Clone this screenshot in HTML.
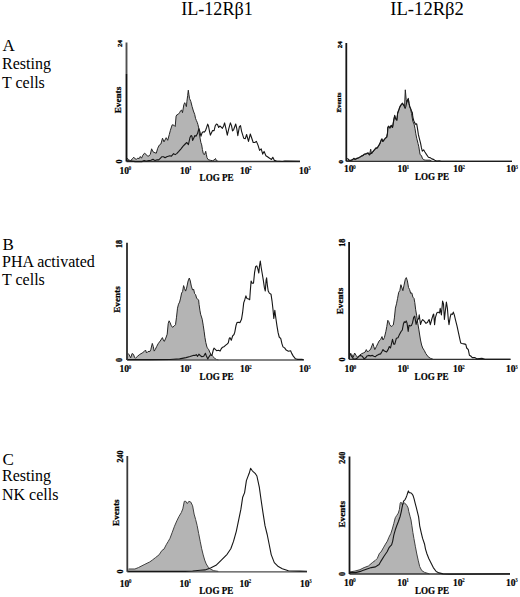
<!DOCTYPE html>
<html><head><meta charset="utf-8"><style>
html,body{margin:0;padding:0;background:#fff;width:520px;height:597px;overflow:hidden}
svg{display:block}
text{font-family:"Liberation Serif",serif}
.h{font-size:18px}
.l{font-size:16px}
.L{font-size:17px}
.t{font-size:9.5px;font-weight:bold;stroke:#000;stroke-width:0.2px}
.s{font-size:5.5px;font-weight:bold}
.e{font-size:9px;font-weight:bold}
.g{font-size:9.5px;font-weight:bold;stroke:#000;stroke-width:0.2px}
.r{font-weight:bold;stroke:#000;stroke-width:0.3px}
.ev{stroke-width:0.25px}
</style></head><body>
<svg width="520" height="597" viewBox="0 0 520 597">
<rect width="520" height="597" fill="#fff"/>

<text class="h" x="181.2" y="15.2" textLength="71.6" lengthAdjust="spacingAndGlyphs">IL-12R&#946;1</text>
<text class="h" x="390.3" y="15.2" textLength="73.6" lengthAdjust="spacingAndGlyphs">IL-12R&#946;2</text>
<text class="L" x="2.5" y="51">A</text>
<text class="l" x="2" y="68.7">Resting</text>
<text class="l" x="2" y="87.6">T cells</text>
<text class="L" x="2.5" y="249.9">B</text>
<text class="l" x="2" y="266.7">PHA activated</text>
<text class="l" x="2" y="284.9">T cells</text>
<text class="L" x="2.5" y="465.2">C</text>
<text class="l" x="2" y="480.9">Resting</text>
<text class="l" x="2" y="500.2">NK cells</text>
<polygon points="126.5,161.5 127.4,158.2 128.4,159.9 129.4,160.2 130.7,160.9 132.4,158.6 133.8,157.2 135.1,158.9 136.5,159.2 137.8,158.2 139.2,158.6 140.3,156.5 141.5,158.2 142.9,155.2 144.5,153.2 145.9,154.2 147.6,156.2 148.9,155.9 150.3,154.5 151.6,148.8 153.0,151.8 155.0,152.8 156.3,153.2 157.7,148.3 159.3,145.1 160.9,144.0 162.5,138.2 164.0,141.9 166.2,137.7 167.7,140.3 169.3,134.5 170.4,130.3 172.2,124.8 173.9,125.2 175.2,126.5 176.1,116.1 176.9,114.8 178.2,114.4 179.5,112.7 180.8,110.5 181.7,110.1 182.5,112.7 183.8,104.9 184.7,102.7 185.6,104.5 186.4,106.6 186.9,101.4 187.7,95.4 188.3,90.2 188.9,94.5 189.5,98.4 190.8,101.4 192.1,106.6 193.4,111.0 194.7,114.4 195.5,118.3 196.4,120.5 197.2,122.3 197.9,124.5 198.7,127.9 199.4,134.0 200.2,138.9 200.9,142.6 201.7,144.9 202.4,149.4 203.2,153.2 204.0,154.7 204.7,154.3 205.7,151.3 206.4,154.7 207.0,157.7 208.1,159.6 210.4,160.3 212.6,160.7 214.1,160.0 215.5,158.5 216.4,160.7 218.7,161.5 218.7,161.5" fill="#b4b4b4" stroke="none"/>
<polyline points="127.4,158.2 128.4,159.9 129.4,160.2 130.7,160.9 132.4,158.6 133.8,157.2 135.1,158.9 136.5,159.2 137.8,158.2 139.2,158.6 140.3,156.5 141.5,158.2 142.9,155.2 144.5,153.2 145.9,154.2 147.6,156.2 148.9,155.9 150.3,154.5 151.6,148.8 153.0,151.8 155.0,152.8 156.3,153.2 157.7,148.3 159.3,145.1 160.9,144.0 162.5,138.2 164.0,141.9 166.2,137.7 167.7,140.3 169.3,134.5 170.4,130.3 172.2,124.8 173.9,125.2 175.2,126.5 176.1,116.1 176.9,114.8 178.2,114.4 179.5,112.7 180.8,110.5 181.7,110.1 182.5,112.7 183.8,104.9 184.7,102.7 185.6,104.5 186.4,106.6 186.9,101.4 187.7,95.4 188.3,90.2 188.9,94.5 189.5,98.4 190.8,101.4 192.1,106.6 193.4,111.0 194.7,114.4 195.5,118.3 196.4,120.5 197.2,122.3 197.9,124.5 198.7,127.9 199.4,134.0 200.2,138.9 200.9,142.6 201.7,144.9 202.4,149.4 203.2,153.2 204.0,154.7 204.7,154.3 205.7,151.3 206.4,154.7 207.0,157.7 208.1,159.6 210.4,160.3 212.6,160.7 214.1,160.0 215.5,158.5 216.4,160.7 218.7,161.5" fill="none" stroke="#262626" stroke-width="1" stroke-linejoin="round"/>
<line x1="126.5" y1="161.5" x2="300.0" y2="161.5" stroke="#333" stroke-width="1.3"/>
<polyline points="127.4,160.6 128.7,160.9 135.5,161.6 142.2,161.6 144.2,160.6 146.2,161.2 148.9,160.6 150.9,160.2 153.0,159.2 155.0,160.6 156.6,159.9 158.7,159.9 160.3,158.3 161.9,156.7 163.5,156.7 165.1,157.8 166.7,156.7 168.3,156.2 169.9,155.7 171.4,156.2 173.6,153.6 175.1,154.6 176.7,153.6 178.8,151.4 181.0,148.8 183.1,146.2 185.2,144.0 186.8,142.5 188.4,144.6 190.0,137.5 191.1,135.5 191.9,136.2 192.6,140.4 193.8,138.1 194.9,135.5 196.0,136.2 197.5,133.6 198.3,130.6 199.0,128.7 199.8,131.3 200.9,136.2 202.1,132.8 203.2,131.7 204.3,132.1 205.5,130.6 206.6,127.5 207.7,124.1 208.5,126.0 209.5,131.3 210.4,135.1 211.5,132.8 212.6,130.6 214.1,130.6 215.3,125.7 216.4,124.1 217.5,124.5 218.7,127.5 219.8,126.0 220.9,126.8 222.4,128.3 223.6,126.0 224.6,122.9 226.2,129.8 227.3,135.1 228.8,128.7 230.4,122.9 231.5,125.6 232.5,130.9 233.6,129.8 235.7,124.0 236.8,128.7 237.8,135.6 239.4,126.6 240.5,125.6 241.6,131.3 243.7,138.2 245.3,138.7 246.6,134.5 248.5,141.4 250.3,134.0 251.6,137.7 253.2,142.5 254.8,142.5 256.4,141.4 258.0,145.1 259.6,150.4 261.2,148.8 262.7,154.1 264.1,151.4 265.9,155.7 267.5,156.7 269.6,158.3 271.5,159.4 272.8,157.3 274.4,160.4 276.5,161.0 282.3,161.5 285.0,161.0 300.0,161.3" fill="none" stroke="#161616" stroke-width="1.1" stroke-linejoin="round"/>
<line x1="126.5" y1="42.5" x2="126.5" y2="74.0" stroke="#505050" stroke-width="1.9"/>
<line x1="126.5" y1="74.0" x2="126.5" y2="161.5" stroke="#111" stroke-width="1.9"/>
<polygon points="346.3,161.3 347.0,161.0 352.5,160.0 353.8,158.8 355.1,159.6 356.8,158.8 359.0,157.9 361.2,156.6 362.9,155.8 364.6,154.5 366.4,154.0 368.1,153.2 369.4,155.2 370.7,149.2 371.5,154.0 372.4,152.7 374.1,150.6 375.9,148.4 377.2,148.4 378.5,146.3 379.8,144.1 381.1,140.6 381.9,139.3 382.8,141.9 384.1,140.2 385.4,138.5 386.7,137.6 387.5,133.3 387.8,127.9 388.6,126.6 389.9,128.3 391.2,125.7 392.5,127.9 393.8,120.1 394.7,115.8 395.5,118.8 396.8,120.5 397.7,113.2 399.0,109.7 399.9,107.1 401.2,105.0 402.5,103.7 403.8,105.8 404.6,106.0 405.3,89.8 406.2,99.5 406.8,102.4 407.7,100.2 408.3,98.9 409.0,103.7 409.8,107.1 410.7,109.3 411.5,113.5 412.8,121.3 414.1,124.3 415.0,128.7 415.8,133.8 416.7,138.2 418.0,143.4 418.8,146.8 419.5,151.1 420.1,154.6 421.4,155.5 422.3,158.1 423.6,159.8 425.8,160.2 430.1,160.2 431.8,161.3 431.8,161.3" fill="#b4b4b4" stroke="none"/>
<polyline points="347.0,161.0 352.5,160.0 353.8,158.8 355.1,159.6 356.8,158.8 359.0,157.9 361.2,156.6 362.9,155.8 364.6,154.5 366.4,154.0 368.1,153.2 369.4,155.2 370.7,149.2 371.5,154.0 372.4,152.7 374.1,150.6 375.9,148.4 377.2,148.4 378.5,146.3 379.8,144.1 381.1,140.6 381.9,139.3 382.8,141.9 384.1,140.2 385.4,138.5 386.7,137.6 387.5,133.3 387.8,127.9 388.6,126.6 389.9,128.3 391.2,125.7 392.5,127.9 393.8,120.1 394.7,115.8 395.5,118.8 396.8,120.5 397.7,113.2 399.0,109.7 399.9,107.1 401.2,105.0 402.5,103.7 403.8,105.8 404.6,106.0 405.3,89.8 406.2,99.5 406.8,102.4 407.7,100.2 408.3,98.9 409.0,103.7 409.8,107.1 410.7,109.3 411.5,113.5 412.8,121.3 414.1,124.3 415.0,128.7 415.8,133.8 416.7,138.2 418.0,143.4 418.8,146.8 419.5,151.1 420.1,154.6 421.4,155.5 422.3,158.1 423.6,159.8 425.8,160.2 430.1,160.2 431.8,161.3" fill="none" stroke="#262626" stroke-width="1" stroke-linejoin="round"/>
<line x1="346.3" y1="161.3" x2="512.0" y2="161.3" stroke="#333" stroke-width="1.3"/>
<polyline points="347.3,158.3 349.1,160.0 350.8,160.5 352.5,159.6 353.8,158.3 355.1,159.2 356.8,158.3 359.0,157.4 361.2,156.1 362.9,155.3 364.6,154.0 366.4,153.5 368.1,152.7 369.4,154.8 370.7,153.5 372.4,152.2 374.1,150.1 375.9,147.9 377.2,147.9 378.5,145.8 379.8,143.6 381.1,140.1 381.9,138.8 382.8,141.4 384.1,139.7 385.4,138.0 386.7,137.1 387.5,132.8 387.8,127.4 388.6,126.1 389.9,127.8 391.2,125.2 392.5,127.4 393.8,119.6 394.7,115.3 395.5,118.3 396.8,120.0 397.7,112.7 399.0,109.2 399.9,106.6 401.2,104.5 402.5,103.2 403.8,105.3 405.1,108.4 405.9,106.2 406.8,101.9 407.7,99.7 408.3,98.4 409.0,103.2 409.8,106.6 410.7,108.8 411.5,111.0 412.4,112.7 412.8,117.0 413.7,120.5 414.6,122.6 415.4,124.3 416.7,123.9 417.5,128.7 418.4,134.7 419.7,139.9 420.6,143.4 421.4,147.7 422.3,151.1 423.6,149.8 424.9,152.0 426.6,154.6 428.4,157.2 430.1,157.6 431.8,158.9 433.5,159.4 434.8,160.2 436.6,161.1 439.2,160.7 441.3,161.3 512.0,161.2" fill="none" stroke="#161616" stroke-width="1.1" stroke-linejoin="round"/>
<line x1="346.3" y1="43.0" x2="346.3" y2="161.3" stroke="#161616" stroke-width="1.8"/>
<polygon points="127.0,360.0 128.3,353.5 129.2,354.9 130.7,357.8 132.1,353.5 133.5,354.4 134.5,357.3 135.5,358.3 137.4,356.3 139.8,354.4 142.2,353.0 144.6,351.1 145.6,350.1 146.5,353.0 148.0,351.5 149.9,351.5 150.8,349.6 152.3,343.4 153.3,346.7 154.2,351.1 155.2,349.6 156.6,346.7 158.1,343.8 159.5,341.9 160.9,340.0 162.4,337.6 163.3,340.0 164.3,341.4 165.8,338.1 167.2,334.2 168.2,323.7 169.1,320.8 170.1,322.7 171.0,325.2 172.5,327.3 174.0,326.2 175.5,324.7 176.5,317.2 177.5,308.2 178.5,304.2 179.6,302.1 180.6,298.1 181.6,293.1 182.6,291.6 183.6,285.6 184.6,288.6 185.6,291.1 186.6,288.1 188.1,281.0 189.3,278.0 190.3,281.0 191.3,286.1 192.6,290.1 193.6,289.1 194.6,293.6 195.6,294.6 196.6,298.1 197.6,299.1 198.6,300.1 199.1,304.7 199.9,310.2 200.6,314.2 202.2,319.2 203.2,325.2 204.1,331.2 204.9,337.3 205.8,342.5 207.1,347.7 208.0,348.5 208.8,349.8 209.7,352.0 211.0,354.6 212.7,356.3 214.5,358.1 216.2,359.4 218.4,359.8 218.4,360.0" fill="#b4b4b4" stroke="none"/>
<polyline points="128.3,353.5 129.2,354.9 130.7,357.8 132.1,353.5 133.5,354.4 134.5,357.3 135.5,358.3 137.4,356.3 139.8,354.4 142.2,353.0 144.6,351.1 145.6,350.1 146.5,353.0 148.0,351.5 149.9,351.5 150.8,349.6 152.3,343.4 153.3,346.7 154.2,351.1 155.2,349.6 156.6,346.7 158.1,343.8 159.5,341.9 160.9,340.0 162.4,337.6 163.3,340.0 164.3,341.4 165.8,338.1 167.2,334.2 168.2,323.7 169.1,320.8 170.1,322.7 171.0,325.2 172.5,327.3 174.0,326.2 175.5,324.7 176.5,317.2 177.5,308.2 178.5,304.2 179.6,302.1 180.6,298.1 181.6,293.1 182.6,291.6 183.6,285.6 184.6,288.6 185.6,291.1 186.6,288.1 188.1,281.0 189.3,278.0 190.3,281.0 191.3,286.1 192.6,290.1 193.6,289.1 194.6,293.6 195.6,294.6 196.6,298.1 197.6,299.1 198.6,300.1 199.1,304.7 199.9,310.2 200.6,314.2 202.2,319.2 203.2,325.2 204.1,331.2 204.9,337.3 205.8,342.5 207.1,347.7 208.0,348.5 208.8,349.8 209.7,352.0 211.0,354.6 212.7,356.3 214.5,358.1 216.2,359.4 218.4,359.8" fill="none" stroke="#262626" stroke-width="1" stroke-linejoin="round"/>
<line x1="127.0" y1="360.0" x2="303.8" y2="360.0" stroke="#5a5a5a" stroke-width="1.3"/>
<polyline points="127.5,359.6 150.0,359.6 170.0,359.5 179.6,358.9 186.0,357.6 190.0,356.5 193.9,355.2 195.0,355.5 196.3,354.6 197.6,356.3 198.9,354.2 200.2,355.5 201.9,356.8 203.7,356.3 205.4,353.3 206.2,355.5 207.8,358.9 209.3,356.3 210.6,354.6 211.9,355.5 213.2,350.3 214.0,348.1 215.3,349.4 216.6,350.7 218.4,350.3 220.1,351.1 221.4,348.5 222.7,347.2 224.4,346.4 225.7,345.1 227.0,344.2 228.3,342.9 229.2,338.6 230.0,337.7 231.3,340.3 232.6,336.0 233.9,334.7 234.8,332.1 236.1,325.2 237.0,322.6 238.3,322.2 240.0,322.6 241.5,319.3 242.6,312.7 243.7,302.9 244.8,299.7 245.9,295.9 247.0,298.6 248.6,299.1 249.7,299.7 250.3,291.0 251.1,281.1 252.2,283.3 253.5,283.3 254.6,272.4 255.7,266.4 256.8,265.9 257.9,269.2 258.8,273.0 259.5,265.9 260.3,261.0 261.1,267.0 262.2,273.5 263.3,280.1 264.4,287.7 265.3,291.0 266.1,280.1 266.6,277.9 267.4,285.5 268.2,291.0 269.3,293.1 271.0,294.2 272.0,300.8 273.0,309.5 273.8,318.5 274.8,310.4 275.9,318.5 277.0,326.1 278.1,332.7 279.2,337.0 280.8,338.7 281.9,343.6 283.0,346.9 284.6,347.9 286.2,350.1 288.4,351.2 290.6,350.7 291.7,353.4 293.3,356.1 295.5,358.8 297.7,359.4 302.0,359.4 303.8,359.7" fill="none" stroke="#161616" stroke-width="1.1" stroke-linejoin="round"/>
<line x1="127.0" y1="242.8" x2="127.0" y2="360.0" stroke="#2a2a2a" stroke-width="1.8"/>
<polygon points="349.1,359.3 350.3,353.0 351.7,354.4 353.2,357.3 354.6,353.0 356.1,355.4 357.5,357.3 359.4,355.4 361.3,353.9 363.3,353.0 365.2,352.0 366.3,349.6 367.6,352.0 369.0,350.6 370.5,349.6 371.9,345.8 372.9,343.4 373.8,346.7 374.8,349.6 376.3,346.7 377.7,343.8 379.1,341.0 380.6,339.5 382.0,336.6 383.0,340.0 384.4,337.6 385.9,331.3 386.8,326.5 387.8,320.3 388.8,321.7 389.7,324.6 391.2,326.5 392.6,325.6 393.3,325.0 394.4,317.9 395.4,308.1 396.5,303.8 397.6,298.3 398.7,292.3 399.8,290.7 400.9,284.7 402.0,288.0 402.9,290.7 403.9,285.8 405.3,279.3 406.3,277.6 407.4,280.9 408.5,287.4 409.6,289.6 410.7,293.4 411.8,292.9 412.9,297.2 414.0,298.3 414.8,302.7 415.6,309.2 416.7,315.8 417.8,323.4 418.9,329.9 419.7,335.0 420.5,340.0 421.6,345.0 422.7,348.0 424.3,350.5 425.8,353.6 428.2,356.8 430.6,358.4 433.0,359.3 433.0,359.3" fill="#b4b4b4" stroke="none"/>
<polyline points="350.3,353.0 351.7,354.4 353.2,357.3 354.6,353.0 356.1,355.4 357.5,357.3 359.4,355.4 361.3,353.9 363.3,353.0 365.2,352.0 366.3,349.6 367.6,352.0 369.0,350.6 370.5,349.6 371.9,345.8 372.9,343.4 373.8,346.7 374.8,349.6 376.3,346.7 377.7,343.8 379.1,341.0 380.6,339.5 382.0,336.6 383.0,340.0 384.4,337.6 385.9,331.3 386.8,326.5 387.8,320.3 388.8,321.7 389.7,324.6 391.2,326.5 392.6,325.6 393.3,325.0 394.4,317.9 395.4,308.1 396.5,303.8 397.6,298.3 398.7,292.3 399.8,290.7 400.9,284.7 402.0,288.0 402.9,290.7 403.9,285.8 405.3,279.3 406.3,277.6 407.4,280.9 408.5,287.4 409.6,289.6 410.7,293.4 411.8,292.9 412.9,297.2 414.0,298.3 414.8,302.7 415.6,309.2 416.7,315.8 417.8,323.4 418.9,329.9 419.7,335.0 420.5,340.0 421.6,345.0 422.7,348.0 424.3,350.5 425.8,353.6 428.2,356.8 430.6,358.4 433.0,359.3" fill="none" stroke="#262626" stroke-width="1" stroke-linejoin="round"/>
<line x1="349.1" y1="359.3" x2="510.5" y2="359.3" stroke="#333" stroke-width="1.3"/>
<polyline points="349.8,353.5 351.3,355.9 353.2,358.8 355.1,359.2 357.0,358.3 358.9,356.3 360.4,355.4 362.3,356.3 364.2,358.8 365.7,357.8 367.1,355.9 368.6,355.4 370.5,355.9 372.4,355.4 373.8,356.3 375.3,356.8 376.7,355.4 378.7,354.4 380.6,353.9 382.0,351.5 383.0,349.6 384.4,351.1 386.6,352.0 388.1,349.6 389.3,346.5 390.5,348.0 392.5,339.4 393.7,344.1 394.8,344.1 396.4,338.2 398.0,337.8 399.2,335.1 401.1,331.5 402.3,330.0 403.5,323.7 404.3,321.7 405.3,322.5 406.2,320.9 407.0,322.9 408.2,331.5 409.0,325.2 410.2,326.0 411.4,325.6 412.5,322.9 413.7,317.4 414.7,316.2 415.3,319.7 416.1,324.4 417.3,320.5 418.8,318.1 419.2,314.7 420.5,324.5 421.6,321.2 422.7,319.6 424.3,321.2 426.0,323.4 427.6,322.3 428.0,321.3 429.1,319.5 430.3,324.6 431.7,319.5 433.1,314.9 433.7,314.0 434.6,324.6 435.4,317.6 436.8,313.0 438.1,312.1 439.5,313.0 440.2,308.4 441.4,314.9 442.6,301.1 443.5,303.8 444.4,319.5 445.3,311.2 446.4,302.0 447.4,308.4 448.3,319.5 449.0,324.6 450.1,317.6 451.0,314.0 452.4,314.4 453.3,312.1 454.3,314.9 455.6,320.4 457.0,325.9 458.4,332.4 459.8,338.8 460.7,343.0 462.1,343.5 463.9,343.9 465.8,344.4 466.7,348.0 468.3,349.7 469.4,355.2 470.7,356.0 472.3,357.6 474.7,357.6 477.1,358.9 481.9,358.4 485.0,359.2 510.5,359.2" fill="none" stroke="#161616" stroke-width="1.1" stroke-linejoin="round"/>
<line x1="349.1" y1="242.0" x2="349.1" y2="359.3" stroke="#161616" stroke-width="1.8"/>
<polygon points="127.3,571.8 128.5,569.0 134.9,569.0 138.4,567.6 144.1,564.7 149.8,561.9 152.7,559.8 155.5,557.6 159.1,554.8 161.9,550.5 164.0,549.1 166.2,544.8 168.3,541.3 170.0,538.3 172.3,532.2 174.5,526.2 176.8,520.9 179.0,516.4 181.3,512.6 182.8,508.9 184.3,501.3 185.8,501.3 187.3,503.6 188.9,501.3 190.8,502.1 192.6,505.8 194.1,514.1 195.6,519.4 197.1,525.4 198.7,533.7 200.2,541.3 201.7,548.8 203.2,554.9 204.7,560.1 206.2,563.9 208.5,567.7 210.7,569.2 213.7,570.7 218.3,571.4 218.3,571.8" fill="#b4b4b4" stroke="none"/>
<polyline points="128.5,569.0 134.9,569.0 138.4,567.6 144.1,564.7 149.8,561.9 152.7,559.8 155.5,557.6 159.1,554.8 161.9,550.5 164.0,549.1 166.2,544.8 168.3,541.3 170.0,538.3 172.3,532.2 174.5,526.2 176.8,520.9 179.0,516.4 181.3,512.6 182.8,508.9 184.3,501.3 185.8,501.3 187.3,503.6 188.9,501.3 190.8,502.1 192.6,505.8 194.1,514.1 195.6,519.4 197.1,525.4 198.7,533.7 200.2,541.3 201.7,548.8 203.2,554.9 204.7,560.1 206.2,563.9 208.5,567.7 210.7,569.2 213.7,570.7 218.3,571.4" fill="none" stroke="#404040" stroke-width="1" stroke-linejoin="round"/>
<line x1="127.3" y1="571.8" x2="307.0" y2="571.8" stroke="#4a4a4a" stroke-width="1.3"/>
<polyline points="127.5,571.4 185.1,571.4 192.6,571.0 200.2,570.2 205.0,569.9 210.5,568.1 216.0,565.3 221.6,559.8 227.1,554.3 230.8,548.7 233.5,541.4 236.3,531.3 239.0,518.4 240.9,509.2 242.7,497.2 244.6,492.6 246.4,480.6 247.7,477.1 249.2,473.3 250.6,468.3 252.1,470.5 252.9,471.4 255.1,473.3 256.9,476.0 259.3,487.1 261.1,500.0 263.0,512.9 265.0,525.7 267.2,534.5 269.2,544.5 271.2,554.6 274.3,562.6 278.3,566.6 282.3,568.7 288.4,570.7 300.0,571.1 307.0,571.3" fill="none" stroke="#161616" stroke-width="1.1" stroke-linejoin="round"/>
<line x1="127.3" y1="456.0" x2="127.3" y2="571.8" stroke="#3a3a3a" stroke-width="1.8"/>
<polygon points="349.5,574.0 349.9,571.9 354.9,571.1 359.9,569.7 364.1,567.6 368.4,566.0 372.7,562.3 375.0,560.7 377.3,558.4 379.5,553.2 381.0,552.0 383.3,547.9 385.5,544.1 387.4,541.1 388.9,537.3 390.8,533.6 392.3,529.0 393.8,523.5 395.3,517.7 396.8,515.4 398.3,513.1 399.4,509.4 400.2,503.3 400.9,502.2 401.7,503.0 402.4,505.0 403.6,503.3 404.7,503.0 405.8,504.1 406.9,505.6 408.1,507.9 408.8,511.6 410.0,516.2 411.0,520.0 411.9,525.8 412.9,532.6 413.9,538.4 415.3,546.2 416.8,554.0 418.3,560.8 419.7,566.6 421.7,570.5 424.6,572.4 429.4,573.9 429.4,574.0" fill="#b4b4b4" stroke="none"/>
<polyline points="349.9,571.9 354.9,571.1 359.9,569.7 364.1,567.6 368.4,566.0 372.7,562.3 375.0,560.7 377.3,558.4 379.5,553.2 381.0,552.0 383.3,547.9 385.5,544.1 387.4,541.1 388.9,537.3 390.8,533.6 392.3,529.0 393.8,523.5 395.3,517.7 396.8,515.4 398.3,513.1 399.4,509.4 400.2,503.3 400.9,502.2 401.7,503.0 402.4,505.0 403.6,503.3 404.7,503.0 405.8,504.1 406.9,505.6 408.1,507.9 408.8,511.6 410.0,516.2 411.0,520.0 411.9,525.8 412.9,532.6 413.9,538.4 415.3,546.2 416.8,554.0 418.3,560.8 419.7,566.6 421.7,570.5 424.6,572.4 429.4,573.9" fill="none" stroke="#404040" stroke-width="1" stroke-linejoin="round"/>
<line x1="349.5" y1="574.0" x2="510.0" y2="574.0" stroke="#333" stroke-width="1.3"/>
<polyline points="349.9,572.6 355.6,572.6 361.3,571.1 367.0,569.0 371.3,567.6 375.5,566.9 377.5,565.5 379.1,564.5 381.0,561.1 384.0,556.2 387.1,551.7 388.9,547.9 390.1,546.4 391.6,544.9 392.7,541.1 393.8,535.1 395.3,529.8 396.9,525.3 398.4,521.5 400.2,516.2 401.3,511.6 402.0,507.9 402.8,504.1 403.6,501.1 405.1,499.6 406.2,497.3 406.9,495.4 407.7,492.8 408.4,490.9 409.2,492.8 410.3,492.8 411.5,493.2 413.0,495.4 414.1,498.8 415.2,503.3 416.4,507.9 417.5,512.4 418.6,516.9 419.7,525.8 421.2,532.6 422.6,538.4 424.6,544.3 425.5,549.1 427.0,554.0 428.9,558.8 430.9,562.7 433.3,567.6 436.2,571.5 439.1,572.9 443.0,573.9 450.0,574.1 510.0,573.9" fill="none" stroke="#161616" stroke-width="1.1" stroke-linejoin="round"/>
<line x1="349.5" y1="456.5" x2="349.5" y2="574.0" stroke="#161616" stroke-width="1.8"/>
<text class="t" x="119.6" y="173.6">10</text><text class="s" x="128.6" y="169.8">0</text>
<text class="t" x="180.1" y="173.6">10</text><text class="s" x="189.1" y="169.8">1</text>
<text class="t" x="240.1" y="173.6">10</text><text class="s" x="249.1" y="169.8">2</text>
<text class="t" x="299.1" y="173.6">10</text><text class="s" x="308.1" y="169.8">3</text>
<text class="t" x="344.0" y="172.4">10</text><text class="s" x="353.0" y="168.6">0</text>
<text class="t" x="397.4" y="172.4">10</text><text class="s" x="406.4" y="168.6">1</text>
<text class="t" x="453.2" y="172.4">10</text><text class="s" x="462.2" y="168.6">2</text>
<text class="t" x="506.2" y="172.4">10</text><text class="s" x="515.2" y="168.6">3</text>
<text class="t" x="119.6" y="372.3">10</text><text class="s" x="128.6" y="368.5">0</text>
<text class="t" x="180.1" y="372.3">10</text><text class="s" x="189.1" y="368.5">1</text>
<text class="t" x="240.1" y="372.3">10</text><text class="s" x="249.1" y="368.5">2</text>
<text class="t" x="299.1" y="372.3">10</text><text class="s" x="308.1" y="368.5">3</text>
<text class="t" x="344.6" y="372.3">10</text><text class="s" x="353.6" y="368.5">0</text>
<text class="t" x="397.4" y="372.3">10</text><text class="s" x="406.4" y="368.5">1</text>
<text class="t" x="452.9" y="372.3">10</text><text class="s" x="461.9" y="368.5">2</text>
<text class="t" x="505.9" y="372.3">10</text><text class="s" x="514.9" y="368.5">3</text>
<text class="t" x="119.7" y="586.5">10</text><text class="s" x="128.7" y="582.7">0</text>
<text class="t" x="179.6" y="586.5">10</text><text class="s" x="188.6" y="582.7">1</text>
<text class="t" x="239.6" y="586.5">10</text><text class="s" x="248.6" y="582.7">2</text>
<text class="t" x="300.1" y="586.5">10</text><text class="s" x="309.1" y="582.7">3</text>
<text class="t" x="344.0" y="586.2">10</text><text class="s" x="353.0" y="582.4">0</text>
<text class="t" x="397.2" y="586.2">10</text><text class="s" x="406.2" y="582.4">1</text>
<text class="t" x="453.1" y="586.2">10</text><text class="s" x="462.1" y="582.4">2</text>
<text class="t" x="506.1" y="586.2">10</text><text class="s" x="515.1" y="582.4">3</text>
<text class="g" x="199.6" y="180.8" textLength="34" lengthAdjust="spacingAndGlyphs">LOG PE</text>
<text class="g" x="415.0" y="179.9" textLength="34" lengthAdjust="spacingAndGlyphs">LOG PE</text>
<text class="g" x="199.6" y="379.6" textLength="34" lengthAdjust="spacingAndGlyphs">LOG PE</text>
<text class="g" x="414.6" y="380.0" textLength="34" lengthAdjust="spacingAndGlyphs">LOG PE</text>
<text class="g" x="199.3" y="593.7" textLength="34" lengthAdjust="spacingAndGlyphs">LOG PE</text>
<text class="g" x="415.0" y="593.8" textLength="34" lengthAdjust="spacingAndGlyphs">LOG PE</text>
<text class="r ev" text-anchor="middle" textLength="26.5" lengthAdjust="spacingAndGlyphs" style="font-size:7.8px" transform="translate(120.5,100.0) rotate(-90)">Events</text>
<text class="r ev" text-anchor="middle" textLength="26.5" lengthAdjust="spacingAndGlyphs" style="font-size:7.8px" transform="translate(119.9,299.5) rotate(-90)">Events</text>
<text class="r ev" text-anchor="middle" textLength="26.5" lengthAdjust="spacingAndGlyphs" style="font-size:7.8px" transform="translate(119.4,512.7) rotate(-90)">Events</text>
<text class="r ev" text-anchor="middle" textLength="20.0" lengthAdjust="spacingAndGlyphs" style="font-size:6.4px" transform="translate(340.5,102.6) rotate(-90)">Events</text>
<text class="r ev" text-anchor="middle" textLength="26.5" lengthAdjust="spacingAndGlyphs" style="font-size:7.8px" transform="translate(342.6,301.0) rotate(-90)">Events</text>
<text class="r ev" text-anchor="middle" textLength="26.5" lengthAdjust="spacingAndGlyphs" style="font-size:7.8px" transform="translate(344.5,514.3) rotate(-90)">Events</text>
<text class="r" text-anchor="middle" style="font-size:7.0px" transform="translate(121.6,43.6) rotate(-90)">24</text>
<text class="r" text-anchor="middle" style="font-size:7.0px" transform="translate(342.2,44.8) rotate(-90)">24</text>
<text class="r" text-anchor="middle" style="font-size:8.0px" transform="translate(122.2,244.0) rotate(-90)">18</text>
<text class="r" text-anchor="middle" style="font-size:8.0px" transform="translate(345.3,242.8) rotate(-90)">18</text>
<text class="r" text-anchor="middle" style="font-size:8.0px" transform="translate(122.6,456.4) rotate(-90)">240</text>
<text class="r" text-anchor="middle" style="font-size:8.0px" transform="translate(345.3,457.8) rotate(-90)">240</text>
<text class="r" text-anchor="middle" style="font-size:8.0px" transform="translate(122.4,161.4) rotate(-90)">0</text>
<text class="r" text-anchor="middle" style="font-size:7.0px" transform="translate(342.5,161.7) rotate(-90)">0</text>
<text class="r" text-anchor="middle" style="font-size:8.0px" transform="translate(122.2,360.1) rotate(-90)">0</text>
<text class="r" text-anchor="middle" style="font-size:8.0px" transform="translate(344.7,359.6) rotate(-90)">0</text>
<text class="r" text-anchor="middle" style="font-size:8.0px" transform="translate(123.2,571.6) rotate(-90)">0</text>
<text class="r" text-anchor="middle" style="font-size:8.0px" transform="translate(345.3,573.9) rotate(-90)">0</text>
</svg></body></html>
